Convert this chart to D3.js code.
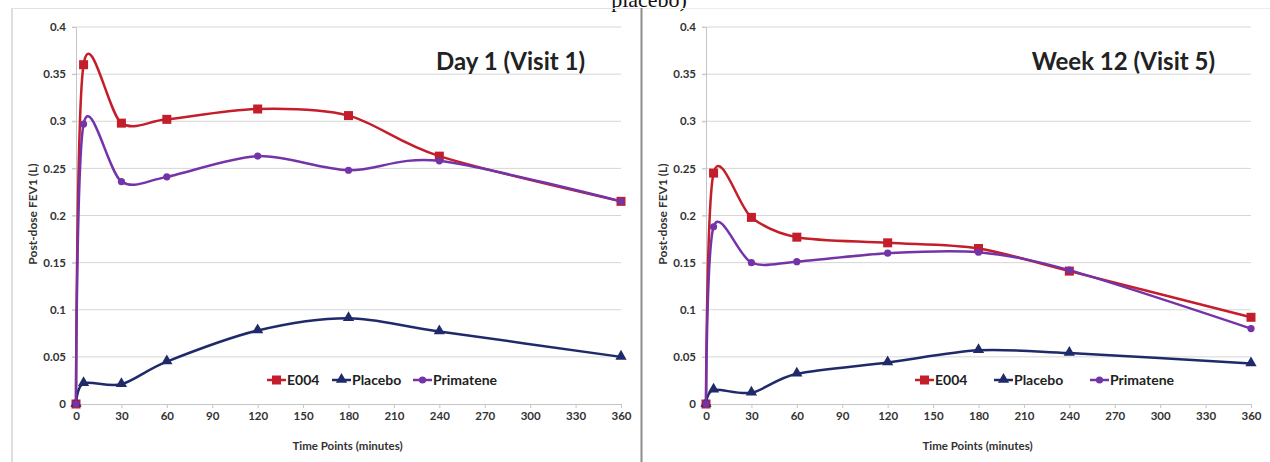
<!DOCTYPE html>
<html>
<head>
<meta charset="utf-8">
<script src="https://cdn.jsdelivr.net/npm/d3@7"></script>
<style>
  body { margin: 0; background: #fff; }
  svg { display: block; }
</style>
</head>
<body>
<script>
// time points (minutes)
var timePoints = [0, 5, 30, 60, 120, 180, 240, 360];
var xTicks = [0, 30, 60, 90, 120, 150, 180, 210, 240, 270, 300, 330, 360];
var yTicks = [0, 0.05, 0.1, 0.15, 0.2, 0.25, 0.3, 0.35, 0.4];
var yTickLabels = ["0", "0.05", "0.1", "0.15", "0.2", "0.25", "0.3", "0.35", "0.4"];
var seriesNames = ["E004", "Placebo", "Primatene"];

// Day 1 (Visit 1)
var day1E004 = [0, 0.360, 0.298, 0.302, 0.313, 0.306, 0.263, 0.215];
var day1Placebo = [0, 0.022, 0.021, 0.045, 0.078, 0.091, 0.077, 0.050];
var day1Primatene = [0, 0.297, 0.236, 0.241, 0.263, 0.248, 0.258, 0.215];

// Week 12 (Visit 5)
var wk12E004 = [0, 0.245, 0.198, 0.177, 0.171, 0.165, 0.141, 0.092];
var wk12Placebo = [0, 0.015, 0.012, 0.032, 0.044, 0.057, 0.054, 0.043];
var wk12Primatene = [0, 0.188, 0.150, 0.151, 0.160, 0.161, 0.142, 0.080];

var width = 1270,
	height = 462;

var colors = {E004: "#c41e2a", Placebo: "#1f2a6b", Primatene: "#7434a8"};
var font = "Lato, 'Open Sans', sans-serif";

var svg = d3.select("body")
	.append("svg")
	.attr("width", width)
	.attr("height", height);

//text from the page above, cut by the top edge as in the picture
svg.append("text")
	.attr("x", 649)
	.attr("y", 7)
	.attr("text-anchor", "middle")
	.style("font-family", "'Liberation Serif', serif")
	.style("font-size", "22px")
	.attr("fill", "#111")
	.text("placebo)");

//frames
svg.append("line").attr("x1", 12).attr("x2", 12).attr("y1", 8).attr("y2", height)
	.attr("stroke", "#c8c8c8").attr("stroke-width", 1.2);
svg.append("line").attr("x1", 12).attr("x2", 641).attr("y1", 8.5).attr("y2", 8.5)
	.attr("stroke", "#e2e2e2").attr("stroke-width", 1);
svg.append("line").attr("x1", 641).attr("x2", 1270).attr("y1", 8.5).attr("y2", 8.5)
	.attr("stroke", "#ececec").attr("stroke-width", 1);
svg.append("line").attr("x1", 641.5).attr("x2", 641.5).attr("y1", 8).attr("y2", height)
	.attr("stroke", "#8c8c8c").attr("stroke-width", 2);

drawPanel({
	left: 76, right: 621, top: 27, bottom: 404,
	title: "Day 1 (Visit 1)",
	data: [day1E004, day1Placebo, day1Primatene],
	yLabelX: 33,
	legendX: [267, 332, 413]
});

drawPanel({
	left: 706, right: 1251, top: 27, bottom: 404,
	title: "Week 12 (Visit 5)",
	data: [wk12E004, wk12Placebo, wk12Primatene],
	yLabelX: 663,
	legendX: [915, 994, 1090]
});

function drawMarker(g, name, x, y){
	if (name == "E004") {
		g.append("rect")
			.attr("x", x - 4.5).attr("y", y - 4.5)
			.attr("width", 9).attr("height", 9)
			.attr("fill", colors[name]);
	} else if (name == "Placebo") {
		g.append("path")
			.attr("d", d3.symbol().type(d3.symbolTriangle).size(55)())
			.attr("transform", "translate(" + x + "," + (y - 0.5) + ")")
			.attr("fill", colors[name]);
	} else {
		g.append("circle")
			.attr("cx", x).attr("cy", y).attr("r", 3.6)
			.attr("fill", colors[name]);
	}
}

function drawPanel(p){
	var x = d3.scaleLinear().domain([0, 360]).range([p.left, p.right]);
	var y = d3.scaleLinear().domain([0, 0.4]).range([p.bottom, p.top]);

	var g = svg.append("g");

	//gridlines
	g.selectAll(".grid")
		.data(yTicks.slice(1))
		.enter()
		.append("line")
		.attr("x1", p.left - 4)
		.attr("x2", p.right)
		.attr("y1", function(d){ return y(d); })
		.attr("y2", function(d){ return y(d); })
		.attr("stroke", "#d6d6d6")
		.attr("stroke-width", 1);

	//y axis
	var yAxis = g.append("g")
		.attr("transform", "translate(" + p.left + ",0)")
		.call(d3.axisLeft(y).tickValues(yTicks).tickSize(4).tickSizeOuter(0)
			.tickFormat(function(d, i){ return yTickLabels[i]; }));
	yAxis.select(".domain").attr("stroke", "#c4c4c4");
	yAxis.selectAll(".tick line").attr("stroke", "#c4c4c4");
	yAxis.selectAll("text")
		.attr("x", -10)
		.style("font-family", font)
		.style("font-size", "11.5px")
		.style("font-weight", "bold")
		.attr("fill", "#333");

	//x axis
	var xAxis = g.append("g")
		.attr("transform", "translate(0," + p.bottom + ")")
		.call(d3.axisBottom(x).tickValues(xTicks).tickSize(4).tickSizeOuter(0));
	xAxis.select(".domain").attr("stroke", "#c4c4c4");
	xAxis.selectAll(".tick line").attr("stroke", "#c4c4c4");
	xAxis.selectAll("text")
		.attr("y", 8)
		.style("font-family", font)
		.style("font-size", "11.5px")
		.style("font-weight", "bold")
		.attr("fill", "#333");

	//axis titles
	g.append("text")
		.attr("x", (p.left + p.right) / 2 - 1)
		.attr("y", 450)
		.attr("text-anchor", "middle")
		.style("font-family", font)
		.style("font-size", "11.5px")
		.style("font-weight", "bold")
		.attr("fill", "#333")
		.text("Time Points (minutes)");

	g.append("text")
		.attr("transform", "translate(" + (p.yLabelX + 4) + ",214) rotate(-90)")
		.attr("text-anchor", "middle")
		.style("font-family", font)
		.style("font-size", "12px")
		.style("font-weight", "bold")
		.attr("fill", "#333")
		.text("Post-dose FEV1 (L)");

	//panel title
	g.append("text")
		.attr("x", p.left + 509)
		.attr("y", 70)
		.attr("text-anchor", "end")
		.style("font-family", font)
		.style("font-size", "24px")
		.style("font-weight", "bold")
		.attr("fill", "#222")
		.text(p.title);

	//smoothed lines
	var line = d3.line()
		.x(function(d){ return x(d[0]); })
		.y(function(d){ return y(d[1]); })
		.curve(d3.curveCardinal.tension(0.1));

	seriesNames.forEach(function(name, i){
		var pts = timePoints.map(function(t, j){ return [t, p.data[i][j]]; });
		g.append("path")
			.datum(pts)
			.attr("d", line)
			.attr("fill", "none")
			.attr("stroke", colors[name])
			.attr("stroke-width", 2.5);
		pts.forEach(function(d){
			drawMarker(g, name, x(d[0]), y(d[1]));
		});
	});

	//legend
	var ly = 380;
	seriesNames.forEach(function(name, i){
		var lx = p.legendX[i];
		g.append("line")
			.attr("x1", lx).attr("x2", lx + 19)
			.attr("y1", ly).attr("y2", ly)
			.attr("stroke", colors[name])
			.attr("stroke-width", 2.5);
		drawMarker(g, name, lx + 9.5, ly);
		g.append("text")
			.attr("x", lx + 20)
			.attr("y", ly + 5)
			.style("font-family", font)
			.style("font-size", "14px")
			.style("font-weight", "bold")
			.attr("fill", "#222")
			.text(name);
	});
}
</script>
</body>
</html>
